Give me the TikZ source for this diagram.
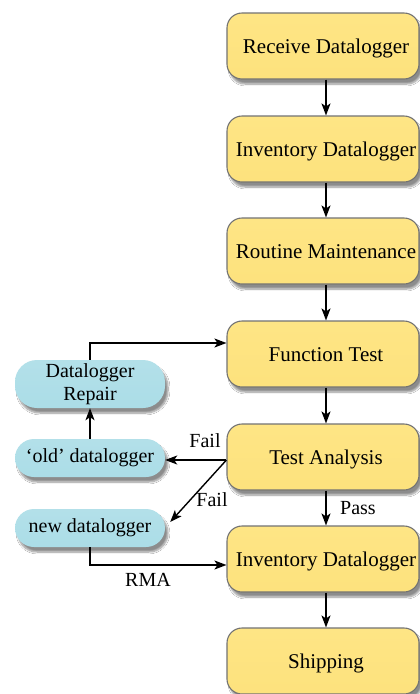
\documentclass[tikz,border=0pt]{standalone}
\usepackage{fontspec}
\setmainfont{Liberation Serif}
\usetikzlibrary{shadows.blur,arrows.meta}

\definecolor{stageyellow}{HTML}{FDE27D}
\definecolor{stagetop}{HTML}{FEE585}
\definecolor{sideblue}{HTML}{ABDDE7}
\definecolor{sidetop}{HTML}{B3E0E9}

% stage label, set a little right of the box centre
\newcommand{\stagetext}[1]{\hspace*{6pt}#1}

\begin{document}
\begin{tikzpicture}[x=1pt,y=-1pt,
  stage/.style={draw=black!55, line width=1.1pt, rounded corners=15pt,
    minimum width=192pt, minimum height=66pt, inner sep=0pt,
    text height=18pt, text depth=4pt,
    top color=stagetop, bottom color=stageyellow,
    blur shadow={shadow xshift=3pt, shadow yshift=-5pt, shadow blur steps=8, shadow opacity=45},
    font=\fontsize{21}{25}\selectfont},
  side/.style={rounded corners=19pt, minimum width=150pt, minimum height=38pt,
    inner sep=0pt, align=center,
    top color=sidetop, bottom color=sideblue,
    blur shadow={shadow xshift=3pt, shadow yshift=-5pt, shadow blur steps=8, shadow opacity=45},
    font=\fontsize{20}{23.5}\selectfont},
  flow/.style={line width=1.4pt, -{Stealth[length=12pt,width=9pt,inset=3pt]}},
  lbl/.style={font=\fontsize{20}{24}\selectfont, inner sep=0pt}]

\useasboundingbox (0,0) rectangle (420,694);
\fill[white] (0,0) rectangle (420,694);

% main process column
\node[stage] (recv) at (323,46)  {\stagetext{Receive Datalogger}};
\node[stage] (inv1) at (323,149) {\stagetext{Inventory Datalogger}};
\node[stage] (rout) at (323,251) {\stagetext{Routine Maintenance}};
\node[stage] (func) at (323,354) {\stagetext{Function Test}};
\node[stage] (test) at (323,457) {\stagetext{Test Analysis}};
\node[stage] (inv2) at (323,559) {\stagetext{Inventory Datalogger}};
\node[stage] (ship) at (323,661) {\stagetext{Shipping}};

% side branch for failed units
\node[side, minimum height=48pt, rounded corners=22pt] (repair) at (90,384) {Datalogger\\Repair};
\node[side] (old) at (90,458) {‘old’ datalogger};
\node[side] (new) at (90,528) {new datalogger};

% straight flow
\draw[flow] ([xshift=3pt]recv.south) -- ([xshift=3pt]inv1.north);
\draw[flow] ([xshift=3pt]inv1.south) -- ([xshift=3pt]rout.north);
\draw[flow] ([xshift=3pt]rout.south) -- ([xshift=3pt]func.north);
\draw[flow] ([xshift=3pt]func.south) -- ([xshift=3pt]test.north);
\draw[flow] ([xshift=3pt]test.south) -- ([xshift=3pt]inv2.north);
\draw[flow] ([xshift=3pt]inv2.south) -- ([xshift=3pt]ship.north);

% failure paths
\coordinate (split) at ([yshift=-3pt]test.west);
\draw[flow] (split) -- (split -| old.east);
\draw[flow] (split) -- ([shift={(5pt,6pt)}]new.east);
\draw[flow] (old) -- (repair);
\draw[flow] (repair.north) |- ([yshift=11pt]func.west);
\draw[flow] (new.south) |- ([yshift=-6pt]inv2.west);

% labels
\node[lbl] (fail1) at (205,441) {Fail};
\node[lbl] (fail2) at (212,500) {Fail};
\node[lbl] (pass)  at (358,508) {Pass};
\node[lbl] (rma)   at (148,580) {RMA};
\end{tikzpicture}
\end{document}
